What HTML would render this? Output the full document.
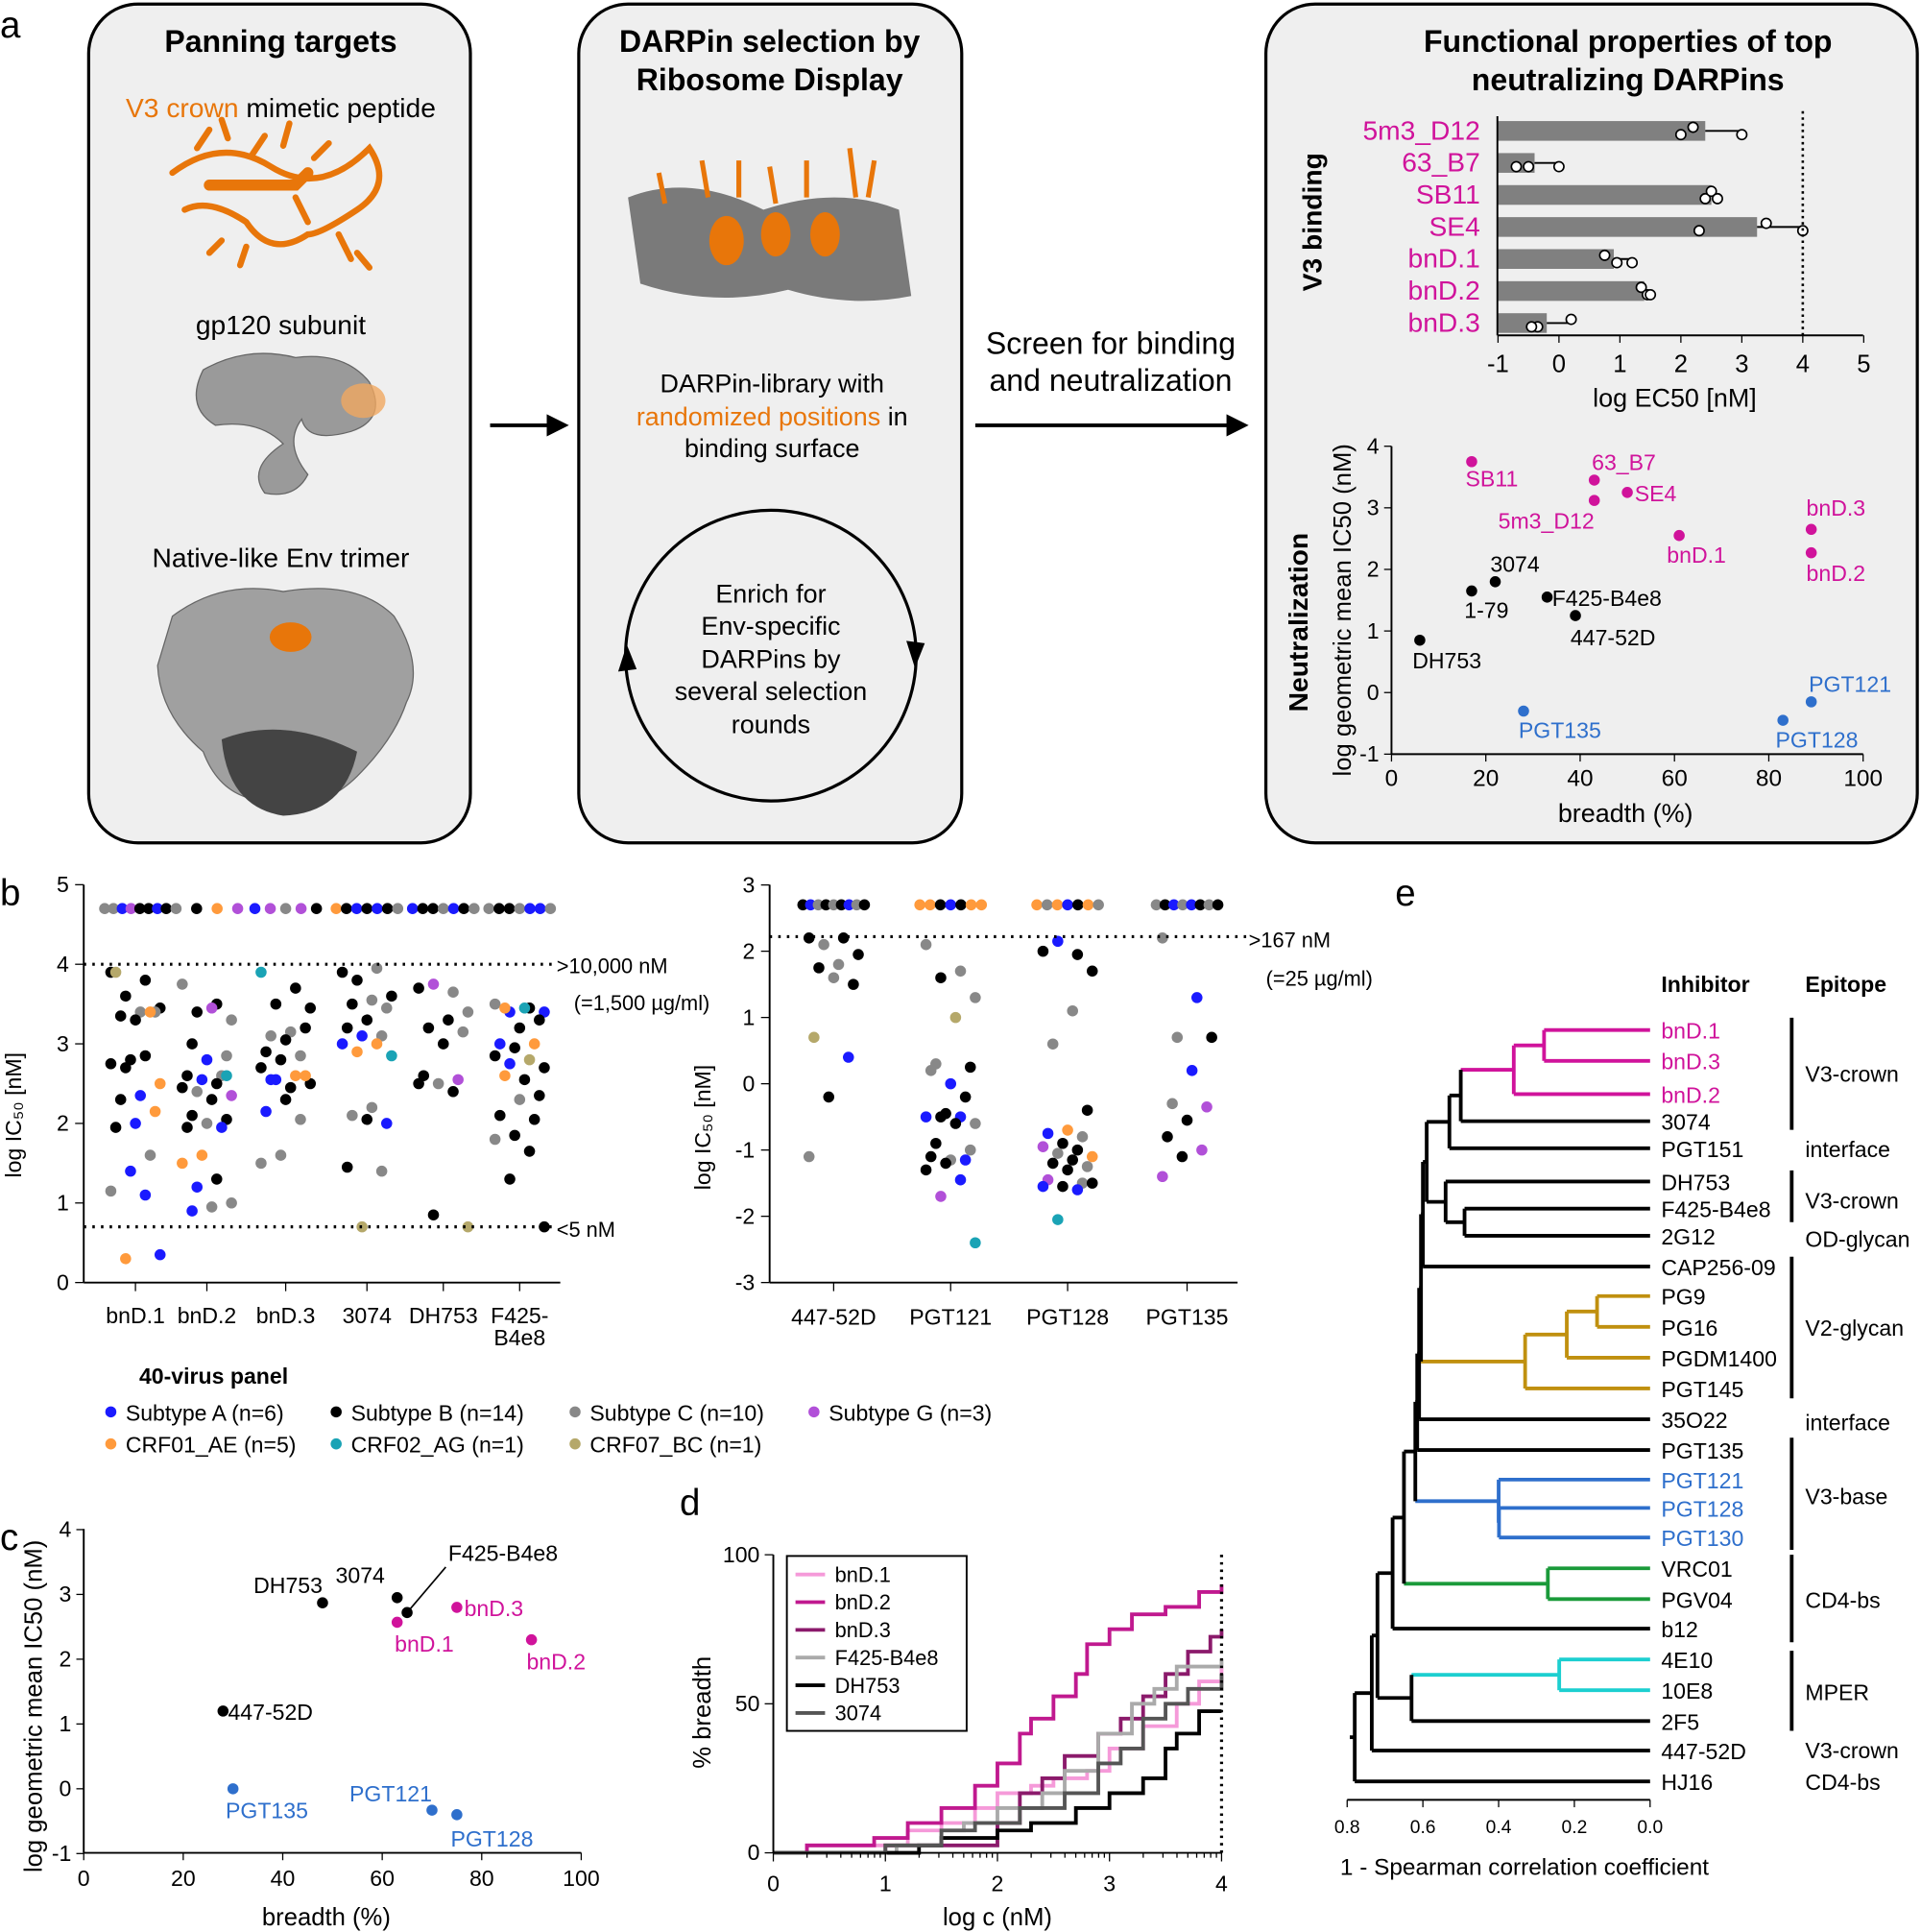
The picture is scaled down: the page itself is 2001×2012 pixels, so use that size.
<!DOCTYPE html>
<html><head><meta charset="utf-8"><style>
html,body{margin:0;padding:0;background:#fff;}
svg{display:block;font-family:"Liberation Sans",sans-serif;}
</style></head><body>
<svg id="fig" width="2001" height="2012" viewBox="0 0 1560 1568" xmlns="http://www.w3.org/2000/svg">
<g id="panelA">
<text x="0" y="30" font-size="30">a</text>
<rect x="72" y="3" width="310" height="681" rx="40" fill="#efefef" stroke="#000" stroke-width="2.5"/>
<rect x="470" y="3" width="311" height="681" rx="40" fill="#efefef" stroke="#000" stroke-width="2.5"/>
<rect x="1028" y="3" width="529" height="681" rx="40" fill="#efefef" stroke="#000" stroke-width="2.5"/>
<text x="228" y="42" font-size="25" font-weight="bold" text-anchor="middle">Panning targets</text>
<text x="228" y="95" font-size="22" text-anchor="middle"><tspan fill="#e8760a">V3 crown</tspan> mimetic peptide</text>
<g stroke="#e8760a" fill="none" stroke-width="5" stroke-linecap="round">
<path d="M140,140 Q180,110 220,135 T300,120 Q320,150 290,170 T250,190 Q220,210 200,180 Q170,160 150,170"/>
<path d="M160,120 l10,-15 M185,112 l-5,-15 M205,125 l10,-15 M230,118 l5,-18 M255,128 l12,-12 M275,190 l10,20 M290,205 l10,12 M200,200 l-5,15 M180,195 l-10,10 M240,160 l10,20"/>
<path d="M170,150 L240,150 L250,140" stroke-width="9"/>
</g>
<text x="228" y="271" font-size="22" text-anchor="middle">gp120 subunit</text>
<path d="M165,300 Q200,280 240,290 Q280,285 300,310 Q315,340 285,350 Q250,360 245,340 Q230,360 250,385 Q240,405 215,400 Q200,380 230,360 Q210,340 175,345 Q150,330 165,300Z" fill="#9a9a9a" stroke="#666"/>
<ellipse cx="295" cy="325" rx="18" ry="14" fill="#f0a860" opacity="0.8"/>
<text x="228" y="460" font-size="22" text-anchor="middle">Native-like Env trimer</text>
<path d="M140,500 Q180,470 230,480 Q290,470 320,500 Q345,540 330,570 Q320,600 290,630 Q260,660 220,650 Q180,650 165,610 Q130,580 128,540 Z" fill="#a0a0a0" stroke="#666"/>
<path d="M180,600 Q230,580 290,610 Q280,660 230,662 Q185,655 180,600Z" fill="#444"/>
<ellipse cx="236" cy="517" rx="17" ry="12" fill="#e8760a"/>
<text x="625" y="42" font-size="25" font-weight="bold" text-anchor="middle">DARPin selection by</text>
<text x="625" y="73" font-size="25" font-weight="bold" text-anchor="middle">Ribosome Display</text>
<g>
<path d="M510,160 Q560,140 620,170 Q680,150 730,170 L740,240 Q690,250 640,235 Q580,250 520,230 Z" fill="#7a7a7a"/>
<g stroke="#e8760a" stroke-width="4" fill="none"><path d="M570,130 l5,30 M600,130 l0,30 M625,135 l5,30 M655,130 l0,30 M690,120 l5,40 M540,165 l-5,-25 M710,130 l-5,30"/></g>
<g fill="#e8760a"><ellipse cx="590" cy="195" rx="14" ry="20"/><ellipse cx="630" cy="190" rx="12" ry="18"/><ellipse cx="670" cy="190" rx="12" ry="18"/></g>
</g>
<text x="627" y="318" font-size="21" text-anchor="middle">DARPin-library with</text>
<text x="627" y="345" font-size="21" text-anchor="middle"><tspan fill="#e8760a">randomized positions</tspan> in</text>
<text x="627" y="371" font-size="21" text-anchor="middle">binding surface</text>
<circle cx="626" cy="532" r="118" fill="none" stroke="#000" stroke-width="2.5"/>
<path d="M736,520 l7,22 l8,-20Z" fill="#000"/>
<path d="M502,545 l7,-22 l8,20Z" fill="#000"/>
<g font-size="21" text-anchor="middle">
<text x="626" y="489">Enrich for</text><text x="626" y="515">Env-specific</text><text x="626" y="542">DARPins by</text><text x="626" y="568">several selection</text><text x="626" y="595">rounds</text></g>
<path d="M398,345 L450,345" stroke="#000" stroke-width="3"/>
<path d="M462,345 l-18,-9 v18Z" fill="#000"/>
<path d="M792,345 L1000,345" stroke="#000" stroke-width="3"/>
<path d="M1014,345 l-18,-9 v18Z" fill="#000"/>
<text x="902" y="287" font-size="25" text-anchor="middle">Screen for binding</text>
<text x="902" y="317" font-size="25" text-anchor="middle">and neutralization</text>
<text x="1322" y="42" font-size="25" font-weight="bold" text-anchor="middle">Functional properties of top</text>
<text x="1322" y="73" font-size="25" font-weight="bold" text-anchor="middle">neutralizing DARPins</text>
<g id="barA"></g>
<g id="scatA"></g>
</g>
<g id="panelB">
<text x="0" y="735" font-size="30">b</text>
</g>
<g id="panelC"><text x="0" y="1258" font-size="30">c</text></g>
<g id="panelD"><text x="552" y="1230" font-size="30">d</text></g>
<g id="panelE"><text x="1133" y="735" font-size="30">e</text></g>
</svg>
<script>
const NS='http://www.w3.org/2000/svg';
function mk(parent,tag,attrs,text){const e=document.createElementNS(NS,tag);for(const k in attrs)e.setAttribute(k,attrs[k]);if(text!==undefined)e.textContent=text;parent.appendChild(e);return e;}
const MAG='#d0139b',BLU='#2e6fcc';
const COL={A:'#1a1aff',B:'#000',C:'#888',G:'#b150d8',E:'#ff9a3c',AG:'#1aa3b5',BC:'#b5a86a'};

// ---- panel a bar chart
const barNames=['5m3_D12','63_B7','SB11','SE4','bnD.1','bnD.2','bnD.3'];
const barValues=[2.4,-0.4,2.5,3.25,0.9,1.4,-0.2];
const barReps=[[2.2,2.0,3.0],[-0.5,-0.7,0.0],[2.4,2.5,2.6],[2.3,3.4,4.0],[0.75,0.95,1.2],[1.35,1.45,1.5],[-0.35,-0.45,0.2]];
const barTicks=[-1,0,1,2,3,4,5];
const bx=v=>1266+v*49.5, by=i=>106+i*26;
const gA=document.getElementById('barA');
barNames.forEach((n,i)=>{
  let r=mk(gA,'rect',{x:bx(-1),y:by(i)-8,width:bx(barValues[i])-bx(-1),height:16,fill:'#808080'});
  
  
  const reps=barReps[i];
  mk(gA,'line',{x1:bx(barValues[i]),x2:bx(Math.max(...reps)),y1:by(i),y2:by(i),stroke:'#000','stroke-width':1.5});
  reps.forEach(v=>{let c=mk(gA,'circle',{cx:bx(v),cy:by(i)+((v*7)%2>1?-3:3),r:4,fill:'#fff',stroke:'#000','stroke-width':1.3});
    
    });
  let t=mk(gA,'text',{x:1202,y:by(i)+7,'font-size':22,fill:MAG,'text-anchor':'end'},n);
  
  
});
mk(gA,'line',{x1:1216,x2:1216,y1:94,y2:272,stroke:'#000','stroke-width':1.5});
mk(gA,'line',{x1:1216,x2:1513,y1:272,y2:272,stroke:'#000','stroke-width':1.5});
mk(gA,'line',{x1:bx(4),x2:bx(4),y1:90,y2:272,stroke:'#000','stroke-width':2,'stroke-dasharray':'2,3'});
barTicks.forEach(v=>{mk(gA,'line',{x1:bx(v),x2:bx(v),y1:272,y2:278,stroke:'#000'});
  mk(gA,'text',{x:bx(v),y:302,'font-size':20,'text-anchor':'middle'},String(v));});
mk(gA,'text',{x:1360,y:330,'font-size':21,'text-anchor':'middle'},'log EC50 [nM]');
mk(gA,'text',{x:0,y:0,'font-size':22,'font-weight':'bold','text-anchor':'middle',transform:'translate(1073,180) rotate(-90)'},'V3 binding');

// ---- panel a scatter
const scNames=['SB11','63_B7','5m3_D12','SE4','bnD.1','bnD.3','bnD.2','3074','1-79','F425-B4e8','447-52D','DH753','PGT121','PGT128','PGT135'];
const scBreadth=[17,43,43,50,61,89,89,22,17,33,39,6,89,83,28];
const scIC50=[3.75,3.45,3.12,3.25,2.55,2.65,2.27,1.8,1.65,1.55,1.25,0.85,-0.15,-0.45,-0.3];
const scLblDx=[-5,-2,-78,6,-10,-4,-4,-4,-6,4,-4,-6,-2,-6,-4];
const scLblDy=[20,-8,23,7,22,-11,23,-8,22,7,24,23,-8,22,22];
const ax=v=>1130+v*3.83, ay=v=>562-v*50;
const gS=document.getElementById('scatA');
mk(gS,'line',{x1:1130,x2:1130,y1:362,y2:612,stroke:'#000','stroke-width':1.5});
mk(gS,'line',{x1:1130,x2:1513,y1:612,y2:612,stroke:'#000','stroke-width':1.5});
[-1,0,1,2,3,4].forEach(v=>{mk(gS,'line',{x1:1124,x2:1130,y1:ay(v),y2:ay(v),stroke:'#000'});mk(gS,'text',{x:1120,y:ay(v)+6,'font-size':18,'text-anchor':'end'},String(v));});
[0,20,40,60,80,100].forEach(v=>{mk(gS,'line',{x1:ax(v),x2:ax(v),y1:612,y2:618,stroke:'#000'});mk(gS,'text',{x:ax(v),y:638,'font-size':19,'text-anchor':'middle'},String(v));});
mk(gS,'text',{x:1320,y:667,'font-size':21,'text-anchor':'middle'},'breadth (%)');
mk(gS,'text',{x:0,y:0,'font-size':20,'text-anchor':'middle',transform:'translate(1097,495) rotate(-90)'},'log geometric mean IC50 (nM)');
mk(gS,'text',{x:0,y:0,'font-size':22,'font-weight':'bold','text-anchor':'middle',transform:'translate(1062,505) rotate(-90)'},'Neutralization');
scNames.forEach((n,i)=>{
  const col=i<7?MAG:(i<12?'#000':BLU);
  let c=mk(gS,'circle',{cx:ax(scBreadth[i]),cy:ay(scIC50[i]),r:4.5,fill:col});
  
  
  mk(gS,'text',{x:ax(scBreadth[i])+scLblDx[i],y:ay(scIC50[i])+scLblDy[i],'font-size':18,fill:col},n);
});

// ---- panel b
const catLeft=['bnD.1','bnD.2','bnD.3','3074','DH753','F425-B4e8'];
const valsLeft=[
'B3.9 B3.8 B3.6 B3.45 C3.4 B3.35 C3.4 B3.3 BC3.9 E3.4 B2.8 B2.75 B2.85 B2.7 E2.5 A2.35 B2.3 E2.15 A2.0 B1.95 C1.6 A1.4 C1.15 A1.1 E0.3 A0.35',
'C3.75 B3.5 B3.4 C3.3 G3.45 B3.0 C2.85 A2.8 B2.6 C2.6 A2.55 B2.45 B2.5 C2.4 G2.35 B2.3 B2.1 B2.05 C2.0 B1.95 A1.95 E1.6 E1.5 B1.3 A1.2 C1.0 C0.95 A0.9 AG2.6',
'AG3.9 B3.7 B3.5 B3.45 C3.15 C3.1 B3.2 B3.05 B2.9 C2.85 B2.8 B2.7 E2.6 A2.55 B2.5 B2.45 A2.55 E2.6 B2.3 A2.15 C2.05 C1.6 C1.5',
'B3.9 C3.95 B3.8 B3.6 C3.55 B3.5 C3.45 B3.3 B3.2 C3.1 A3.1 A3.0 E3.0 E2.9 AG2.85 C2.2 C2.1 A2.0 B2.05 B1.45 C1.4 BC0.7',
'B3.7 C3.65 G3.75 C3.4 B3.3 B3.2 C3.15 B3.0 B2.6 G2.55 C2.5 B2.5 B2.4 B0.85 BC0.7',
'C3.5 B3.45 A3.4 A3.4 AG3.45 E3.45 B3.3 B3.2 A3.0 E3.0 B2.95 B2.85 BC2.8 A2.75 B2.7 B2.55 E2.6 B2.35 C2.3 B2.1 B2.05 B1.85 C1.8 B1.65 B1.3 B0.7'];
const topLeft=['C C A G B B A B','C B E G','A G C G B','E B A B A B C','A B B C A B C','C B B C A A C'];
const catRight=['447-52D','PGT121','PGT128','PGT135'];
const valsRight=[
'B2.2 B2.2 C2.1 B1.95 C1.8 B1.75 B1.5 C1.6 BC0.7 A0.4 B-0.2 C-1.1',
'C2.1 C1.7 B1.6 C1.3 BC1.0 C0.3 B0.25 A0.0 C0.2 B-0.2 B-0.45 A-0.5 A-0.5 B-0.5 C-0.6 B-0.6 B-0.9 C-1.0 C-1.15 B-1.1 A-1.15 B-1.2 B-1.3 A-1.45 G-1.7 AG-2.4',
'B2.0 B1.95 A2.15 B1.7 C1.1 C0.6 B-0.4 E-0.7 A-0.75 C-0.8 B-0.9 G-0.95 B-1.0 C-1.05 E-1.1 B-1.15 B-1.2 C-1.25 B-1.3 G-1.45 C-1.5 B-1.55 A-1.55 A-1.6 AG-2.05 B-1.5',
'C2.2 A1.3 C0.7 B0.7 A0.2 C-0.3 G-0.35 B-0.55 B-0.8 G-1.0 B-1.1 G-1.4'];
const topRight=['B A C B C B A C B','E E B A B E E','E C E A B E C','C B A C A B C B'];
const gB=document.getElementById('panelB');
function parseDot(s){const m=s.match(/^([A-Z]+)(-?[\d.]+)$/);return [m[1],parseFloat(m[2])];}
function stripPlot(cats,vals,tops,xs,yf,topV,yTicks,x0,x1){
  mk(gB,'line',{x1:x0,x2:x0,y1:718,y2:1041,stroke:'#000','stroke-width':1.5});
  mk(gB,'line',{x1:x0,x2:x1,y1:1041,y2:1041,stroke:'#000','stroke-width':1.5});
  yTicks.forEach(v=>{mk(gB,'line',{x1:x0-7,x2:x0,y1:yf(v),y2:yf(v),stroke:'#000'});mk(gB,'text',{x:x0-12,y:yf(v)+6,'font-size':18,'text-anchor':'end'},String(v));});
  cats.forEach((c,ci)=>{
    const cx=xs[ci];
    mk(gB,'line',{x1:cx,x2:cx,y1:1041,y2:1048,stroke:'#000'});
    vals[ci].split(' ').forEach((s,i)=>{const [k,v]=parseDot(s);
      const off=((i*7)%11-5)*4;
      let d=mk(gB,'circle',{cx:cx+off,cy:yf(v),r:4.5,fill:COL[k]});
      
      });
    const tp=tops[ci].split(' ');
    tp.forEach((k,i)=>{let d=mk(gB,'circle',{cx:cx-25+i*50/(tp.length-1),cy:yf(topV),r:4.5,fill:COL[k]});
      
      });
  });
}
const yL=v=>1041-v*64.6, yR=v=>1041-(v+3)*53.8;
const xL=[110,168,232,298,360,422], xR=[677,772,867,964];
stripPlot(catLeft,valsLeft,topLeft,xL,yL,4.7,[0,1,2,3,4,5],68,455);
stripPlot(catRight,valsRight,topRight,xR,yR,2.7,[-3,-2,-1,0,1,2,3],625,1005);
catLeft.forEach((c,i)=>{if(c==='F425-B4e8'){mk(gB,'text',{x:xL[i],y:1074,'font-size':18,'text-anchor':'middle'},'F425-');mk(gB,'text',{x:xL[i],y:1092,'font-size':18,'text-anchor':'middle'},'B4e8');}else mk(gB,'text',{x:xL[i],y:1074,'font-size':18,'text-anchor':'middle'},c);});
catRight.forEach((c,i)=>mk(gB,'text',{x:xR[i],y:1075,'font-size':18,'text-anchor':'middle'},c));
mk(gB,'line',{x1:68,x2:450,y1:yL(4),y2:yL(4),stroke:'#000','stroke-width':2.5,'stroke-dasharray':'2,5'});
mk(gB,'line',{x1:68,x2:450,y1:yL(0.7),y2:yL(0.7),stroke:'#000','stroke-width':2.5,'stroke-dasharray':'2,5'});
mk(gB,'line',{x1:625,x2:1012,y1:yR(2.22),y2:yR(2.22),stroke:'#000','stroke-width':2.5,'stroke-dasharray':'2,5'});
mk(gB,'text',{x:452,y:790,'font-size':17},'>10,000 nM');
mk(gB,'text',{x:466,y:820,'font-size':17},'(=1,500 µg/ml)');
mk(gB,'text',{x:452,y:1004,'font-size':17},'<5 nM');
mk(gB,'text',{x:1014,y:769,'font-size':17},'>167 nM');
mk(gB,'text',{x:1028,y:800,'font-size':17},'(=25 µg/ml)');
mk(gB,'text',{x:0,y:0,'font-size':18,'text-anchor':'middle',transform:'translate(17,905) rotate(-90)'},'log IC₅₀ [nM]');
mk(gB,'text',{x:0,y:0,'font-size':18,'text-anchor':'middle',transform:'translate(577,915) rotate(-90)'},'log IC₅₀ [nM]');
mk(gB,'text',{x:113,y:1123,'font-size':18,'font-weight':'bold'},'40-virus panel');
const legK=['A','B','C','G','E','AG','BC'];
const legT=['Subtype A (n=6)','Subtype B (n=14)','Subtype C (n=10)','Subtype G (n=3)','CRF01_AE (n=5)','CRF02_AG (n=1)','CRF07_BC (n=1)'];
const legX=[90,273,467,661,90,273,467];
legK.forEach((k,i)=>{const y=i<4?1146:1172;
  let c=mk(gB,'circle',{cx:legX[i],cy:y,r:4.5,fill:COL[k]});
  
  
  mk(gB,'text',{x:legX[i]+12,y:y+7,'font-size':18},legT[i]);});

// ---- panel c
const cNames=['DH753','3074','F425-B4e8','bnD.1','bnD.3','bnD.2','447-52D','PGT135','PGT121','PGT128'];
const cBreadth=[48,63,65,63,75,90,28,30,70,75];
const cIC50=[2.87,2.95,2.72,2.57,2.8,2.3,1.2,0,-0.33,-0.4];
const cx_=v=>68+v*4.04, cy_=v=>1452-v*52.6;
const gC=document.getElementById('panelC');
mk(gC,'line',{x1:68,x2:68,y1:1241,y2:1504,stroke:'#000','stroke-width':1.5});
mk(gC,'line',{x1:68,x2:472,y1:1504,y2:1504,stroke:'#000','stroke-width':1.5});
[-1,0,1,2,3,4].forEach(v=>{mk(gC,'line',{x1:62,x2:68,y1:cy_(v),y2:cy_(v),stroke:'#000'});mk(gC,'text',{x:58,y:cy_(v)+6,'font-size':18,'text-anchor':'end'},String(v));});
[0,20,40,60,80,100].forEach(v=>{mk(gC,'line',{x1:cx_(v),x2:cx_(v),y1:1504,y2:1510,stroke:'#000'});mk(gC,'text',{x:cx_(v),y:1531,'font-size':18,'text-anchor':'middle'},String(v));});
mk(gC,'text',{x:265,y:1563,'font-size':20,'text-anchor':'middle'},'breadth (%)');
mk(gC,'text',{x:0,y:0,'font-size':20,'text-anchor':'middle',transform:'translate(34,1385) rotate(-90)'},'log geometric mean IC50 (nM)');
const cDx=[-56,-50,0,-2,6,-4,4,-6,-67,-5];
const cDy=[-8,-12,0,24,7,24,7,24,-7,26];
cNames.forEach((n,i)=>{const col=i<3||i==6?'#000':(i<6?MAG:BLU);
  let c=mk(gC,'circle',{cx:cx_(cBreadth[i]),cy:cy_(cIC50[i]),r:4.5,fill:col});
  
  
  if(n==='F425-B4e8'){mk(gC,'line',{x1:cx_(65),y1:cy_(2.72),x2:362,y2:1272,stroke:'#000','stroke-width':1.3});mk(gC,'text',{x:364,y:1267,'font-size':18},n);}
  else mk(gC,'text',{x:cx_(cBreadth[i])+cDx[i],y:cy_(cIC50[i])+cDy[i],'font-size':18,fill:col},n);
});

// ---- panel d
const dNames=['bnD.1','bnD.2','bnD.3','F425-B4e8','DH753','3074'];
const dColors=['#f59ad9','#c0198f','#8b1a6b','#aaaaaa','#000000','#555555'];
const dLogc=[
[0.3,1.2,1.5,1.8,2.0,2.3,2.5,2.8,3.0,3.3,3.6,3.8,4.0],
[0.3,0.9,1.2,1.5,1.8,2.0,2.2,2.3,2.5,2.7,2.8,3.0,3.2,3.5,3.8,4.0],
[1.0,2.0,2.2,2.4,2.6,2.9,3.1,3.3,3.5,3.7,3.9,4.0],
[1.1,1.5,1.7,2.0,2.4,2.6,2.9,3.2,3.4,3.6,4.0],
[1.3,1.5,2.0,2.3,2.7,3.0,3.3,3.5,3.6,3.8,4.0],
[1.0,1.5,1.8,2.2,2.6,2.9,3.1,3.3,3.5,3.7,4.0]];
const dBreadth=[
[2.5,7.5,10,15,20,22.5,25,27.5,35,42.5,50,57.5,62.5],
[2.5,5,10,15,22.5,30,40,45,52.5,60,70,75,80,82.5,87.5,90],
[2.5,10,20,25,32.5,40,45,52.5,60,67.5,72.5,75],
[2.5,7.5,10,15,20,27.5,40,50,55,62.5,65],
[2.5,5,7.5,10,15,20,25,35,40,47.5,47.5],
[2.5,7.5,10,15,20,30,35,45,50,55,60]];
const dx=v=>628+v*91, dy=v=>1504-v*2.42;
const gD=document.getElementById('panelD');
dNames.forEach((n,i)=>{let d='M'+dx(0)+','+dy(0);
  dLogc[i].forEach((c,j)=>{d+=' H'+dx(c)+' V'+dy(dBreadth[i][j]);});
  d+=' H'+dx(4);
  let p=mk(gD,'path',{d:d,fill:'none',stroke:dColors[i],'stroke-width':3});
  
  });
mk(gD,'line',{x1:628,x2:628,y1:1262,y2:1504,stroke:'#000','stroke-width':1.5});
mk(gD,'line',{x1:628,x2:992,y1:1504,y2:1504,stroke:'#000','stroke-width':1.5});
mk(gD,'line',{x1:992,x2:992,y1:1262,y2:1504,stroke:'#000','stroke-width':2.5,'stroke-dasharray':'2,4'});
[0,50,100].forEach(v=>{mk(gD,'line',{x1:621,x2:628,y1:dy(v),y2:dy(v),stroke:'#000'});mk(gD,'text',{x:617,y:dy(v)+6,'font-size':18,'text-anchor':'end'},String(v));});
[0,1,2,3,4].forEach(v=>{mk(gD,'line',{x1:dx(v),x2:dx(v),y1:1504,y2:1511,stroke:'#000'});mk(gD,'text',{x:dx(v),y:1535,'font-size':18,'text-anchor':'middle'},String(v));
  if(v<4)for(let k=2;k<10;k++){const xx=dx(v+Math.log10(k));mk(gD,'line',{x1:xx,x2:xx,y1:1504,y2:1508,stroke:'#000'});}});
mk(gD,'text',{x:810,y:1563,'font-size':20,'text-anchor':'middle'},'log c (nM)');
mk(gD,'text',{x:0,y:0,'font-size':20,'text-anchor':'middle',transform:'translate(577,1390) rotate(-90)'},'% breadth');
mk(gD,'rect',{x:639,y:1263,width:146,height:142,fill:'#fff',stroke:'#000','stroke-width':1.5});
dNames.forEach((n,i)=>{const y=1278+i*22.5;mk(gD,'line',{x1:646,x2:670,y1:y,y2:y,stroke:dColors[i],'stroke-width':3});
  let t=mk(gD,'text',{x:678,y:y+6,'font-size':17},n);
  
  });

// ---- panel e dendrogram
const leaves=['bnD.1','bnD.3','bnD.2','3074','PGT151','DH753','F425-B4e8','2G12','CAP256-09','PG9','PG16','PGDM1400','PGT145','35O22','PGT135','PGT121','PGT128','PGT130','VRC01','PGV04','b12','4E10','10E8','2F5','447-52D','HJ16'];
const leafY=[836,861,888,910,932,959,981,1003,1028,1052,1077,1102,1127,1152,1177,1201,1224,1248,1273,1298,1322,1347,1372,1397,1421,1446];
const leafColor={'bnD.1':MAG,'bnD.3':MAG,'bnD.2':MAG,'PGT121':BLU,'PGT128':BLU,'PGT130':BLU};
const tree=[0.78,[0.735,[0.72,[0.68,[0.65,[0.62,[0.615,[0.61,[0.605,[0.6,[0.59,[0.53,[0.5,[0.36,[0.28,0,1],2],3],4],[0.54,5,[0.49,6,7]]],8],[0.33,[0.22,[0.14,9,10],11],12]],13],14],[0.4,15,[0.399,16,17]]],[0.27,18,19]],20],[0.63,[0.24,21,22],23]],24],25];
const hx=h=>1340-h*307.5;
const gE=document.getElementById('panelE');
function flat(n){return typeof n==='number'?[n]:flat(n[1]).concat(flat(n[2]));}
function childCol(n){const s=flat(n);
  if(s.every(i=>i<=2))return MAG;if(s.every(i=>i>=9&&i<=12))return '#c0900f';if(s.every(i=>i>=15&&i<=17))return BLU;if(s.every(i=>i>=18&&i<=19))return '#1a9a3a';if(s.every(i=>i>=21&&i<=22))return '#1ccfd0';return '#000';}
function draw(node){
  if(typeof node==='number'){return [1340,leafY[node]];}
  const x=hx(node[0]);
  const col=childCol(node);
  const a=draw(node[1]),b=draw(node[2]);
  let l1=mk(gE,'path',{d:`M${a[0]},${a[1]} H${x}`,stroke:childCol(node[1]),'stroke-width':3,fill:'none'});
  
  
  let l2=mk(gE,'path',{d:`M${b[0]},${b[1]} H${x}`,stroke:childCol(node[2]),'stroke-width':3,fill:'none'});
  
  
  mk(gE,'path',{d:`M${x},${a[1]} V${b[1]}`,stroke:col,'stroke-width':3,fill:'none'});
  return [x,(a[1]+b[1])/2];
}
const root=draw(tree);
mk(gE,'path',{d:`M${root[0]},${root[1]} H${root[0]-4}`,stroke:'#000','stroke-width':3});
leaves.forEach((n,i)=>{let t=mk(gE,'text',{x:1349,y:leafY[i]+7,'font-size':18,fill:leafColor[n]||'#000'},n);
  
  });
mk(gE,'text',{x:1349,y:805,'font-size':18,'font-weight':'bold'},'Inhibitor');
mk(gE,'text',{x:1466,y:805,'font-size':18,'font-weight':'bold'},'Epitope');
const epiText=['V3-crown','interface','V3-crown','OD-glycan','V2-glycan','interface','V3-base','CD4-bs','MPER','V3-crown','CD4-bs'];
const epiY=[878,939,981,1012,1084,1161,1221,1305,1380,1427,1453];
epiText.forEach((t,i)=>mk(gE,'text',{x:1466,y:epiY[i],'font-size':18},t));
[[826,917],[950,992],[1020,1135],[1167,1258],[1262,1333],[1340,1405]].forEach(s=>mk(gE,'line',{x1:1455,x2:1455,y1:s[0],y2:s[1],stroke:'#000','stroke-width':3}));
mk(gE,'line',{x1:1094,x2:1340,y1:1461,y2:1461,stroke:'#000','stroke-width':1.5});
[0.8,0.6,0.4,0.2,0.0].forEach(v=>{mk(gE,'line',{x1:hx(v),x2:hx(v),y1:1461,y2:1467,stroke:'#000'});mk(gE,'text',{x:hx(v),y:1488,'font-size':15,'text-anchor':'middle'},v.toFixed(1));});
mk(gE,'text',{x:1238,y:1522,'font-size':19,'text-anchor':'middle'},'1 - Spearman correlation coefficient');
</script>
</body></html>
